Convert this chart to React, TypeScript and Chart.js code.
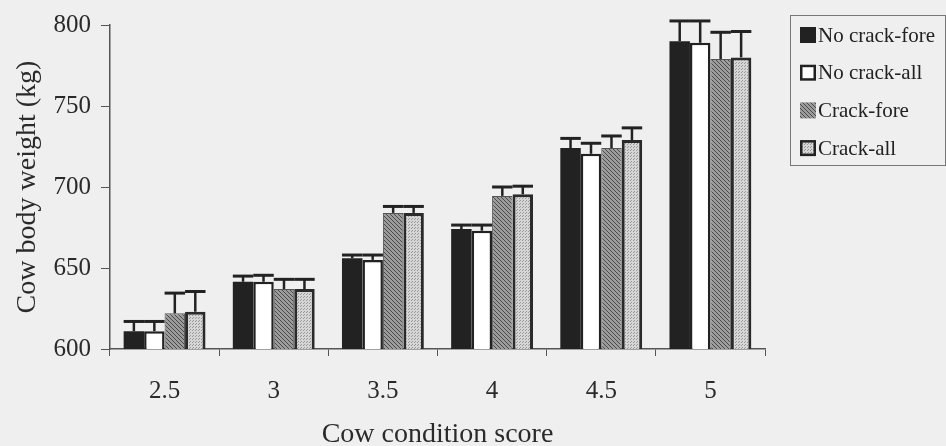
import React, { useEffect, useRef } from "react";
import { Chart, registerables } from "chart.js";

Chart.register(...registerables);

const categories = ["2.5", "3", "3.5", "4", "4.5", "5"];
const seriesNames = ["No crack-fore", "No crack-all", "Crack-fore", "Crack-all"];
const noCrackFore = [611, 641.5, 656, 674, 724, 790];
const noCrackAll = [611, 641.5, 655, 673, 720.5, 789];
const crackFore = [622, 637, 684, 694.5, 724, 779];
const crackAll = [623, 637, 684, 695.5, 729, 780];
const errNoCrackFore = [6, 3.5, 2, 2.5, 6, 12.5];
const errNoCrackAll = [6, 4, 3, 3.5, 6.5, 13.5];
const errCrackFore = [12.5, 6, 4, 5.5, 7.5, 16.5];
const errCrackAll = [12.5, 6, 4, 5, 7.5, 16];
const yTicks = [600, 650, 700, 750, 800];

const FONT = "'Liberation Serif', 'Times New Roman', serif";

function makeHatch(): CanvasPattern | string {
  const c = document.createElement("canvas");
  c.width = 4;
  c.height = 4;
  const g = c.getContext("2d");
  if (!g) return "#888";
  g.fillStyle = "#9c9c9c";
  g.fillRect(0, 0, 4, 4);
  g.fillStyle = "#4a4a4a";
  for (let i = 0; i < 4; i++) g.fillRect(i, i, 1, 1);
  return g.createPattern(c, "repeat") || "#888";
}

function makeDots(): CanvasPattern | string {
  const c = document.createElement("canvas");
  c.width = 3;
  c.height = 3;
  const g = c.getContext("2d");
  if (!g) return "#ccc";
  g.fillStyle = "#d6d6d6";
  g.fillRect(0, 0, 3, 3);
  g.fillStyle = "#979797";
  g.fillRect(0, 0, 1, 1);
  g.fillRect(1, 2, 1, 1);
  return g.createPattern(c, "repeat") || "#ccc";
}

export default function App() {
  const ref = useRef<HTMLCanvasElement | null>(null);

  useEffect(() => {
    if (!ref.current) return;
    const hatch = makeHatch();
    const dots = makeDots();
    const errs = [errNoCrackFore, errNoCrackAll, errCrackFore, errCrackAll];

    const bgPlugin = {
      id: "bg",
      beforeDraw(chart: any) {
        const ctx = chart.ctx;
        ctx.save();
        ctx.fillStyle = "#efefef";
        ctx.fillRect(0, 0, chart.width, chart.height);
        ctx.restore();
      },
    };

    const errPlugin = {
      id: "errbars",
      afterDatasetsDraw(chart: any) {
        const ctx = chart.ctx;
        const y = chart.scales.y;
        ctx.save();
        ctx.strokeStyle = "#222";
        chart.data.datasets.forEach((ds: any, di: number) => {
          const meta = chart.getDatasetMeta(di);
          meta.data.forEach((el: any, i: number) => {
            const v = ds.data[i];
            const top = y.getPixelForValue(v + errs[di][i]);
            const base = el.y;
            const w = el.width;
            ctx.lineWidth = 2.5;
            ctx.beginPath();
            ctx.moveTo(el.x, base);
            ctx.lineTo(el.x, top);
            ctx.stroke();
            ctx.lineWidth = 3;
            ctx.beginPath();
            ctx.moveTo(el.x - w / 2, top);
            ctx.lineTo(el.x + w / 2, top);
            ctx.stroke();
          });
        });
        ctx.restore();
      },
    };

    const legendPlugin = {
      id: "boxlegend",
      afterDraw(chart: any) {
        const ctx = chart.ctx;
        ctx.save();
        const bx = 790, by = 15, bw = 155, bh = 150;
        ctx.strokeStyle = "#777";
        ctx.lineWidth = 1;
        ctx.strokeRect(bx + 0.5, by + 0.5, bw, bh);
        ctx.font = `21px ${FONT}`;
        ctx.textBaseline = "middle";
        chart.data.datasets.forEach((ds: any, i: number) => {
          const cy = 35 + i * 37.7;
          const sx = 800, sy = cy - 8, s = 16;
          ctx.fillStyle = ds.backgroundColor;
          ctx.fillRect(sx, sy, s, s);
          if (ds.borderWidth >= 2) {
            ctx.strokeStyle = "#222";
            ctx.lineWidth = 2.5;
            ctx.strokeRect(sx + 1.25, sy + 1.25, s - 2.5, s - 2.5);
          }
          ctx.fillStyle = "#222";
          ctx.fillText(ds.label, 818, cy + 1);
        });
        ctx.restore();
      },
    };

    const chart = new Chart(ref.current, {
      type: "bar",
      data: {
        labels: categories,
        datasets: [
          { label: seriesNames[0], data: noCrackFore, backgroundColor: "#222", borderColor: "#222", borderWidth: 0 },
          { label: seriesNames[1], data: noCrackAll, backgroundColor: "#ffffff", borderColor: "#222", borderWidth: 2.5 },
          { label: seriesNames[2], data: crackFore, backgroundColor: hatch as any, borderColor: "#555", borderWidth: 1 },
          { label: seriesNames[3], data: crackAll, backgroundColor: dots as any, borderColor: "#2a2a2a", borderWidth: 3 },
        ].map((d) => ({ ...d, borderSkipped: false, categoryPercentage: 0.75, barPercentage: 1 })),
      },
      options: {
        animation: false,
        responsive: false,
        maintainAspectRatio: false,
        layout: { padding: { left: 0, top: 25, right: 181, bottom: 0 } },
        plugins: { legend: { display: false }, tooltip: { enabled: false } },
        scales: {
          x: {
            afterFit(scale: any) {
              scale.height = 97;
            },
            grid: { drawOnChartArea: false, drawTicks: true, tickLength: 7, color: "#555", offset: true },
            border: { color: "#555", width: 1.5 },
            ticks: { font: { family: FONT, size: 25 }, color: "#2a2a2a", padding: 20 },
            title: {
              display: true,
              text: "Cow condition score",
              font: { family: FONT, size: 28, lineHeight: 0.8 },
              color: "#2a2a2a",
              padding: { top: 0, bottom: 0 },
            },
          },
          y: {
            min: 600,
            max: 800,
            afterFit(scale: any) {
              scale.width = 110;
            },
            afterBuildTicks(scale: any) {
              scale.ticks = yTicks.map((v) => ({ value: v }));
            },
            grid: { drawOnChartArea: false, drawTicks: true, tickLength: 9, color: "#555" },
            border: { color: "#555", width: 1.5 },
            ticks: { font: { family: FONT, size: 25 }, color: "#2a2a2a", padding: 10 },
            title: {
              display: true,
              text: "Cow body weight (kg)",
              font: { family: FONT, size: 28, lineHeight: 1 },
              color: "#2a2a2a",
              padding: { top: 14, bottom: 0 },
            },
          },
        },
      },
      plugins: [bgPlugin, errPlugin, legendPlugin],
    });
    return () => chart.destroy();
  }, []);

  return (
    <div style={{ position: "fixed", left: 0, top: 0, width: 946, height: 446 }}>
      <canvas ref={ref} width={946} height={446} style={{ width: 946, height: 446, display: "block" }} />
    </div>
  );
}
